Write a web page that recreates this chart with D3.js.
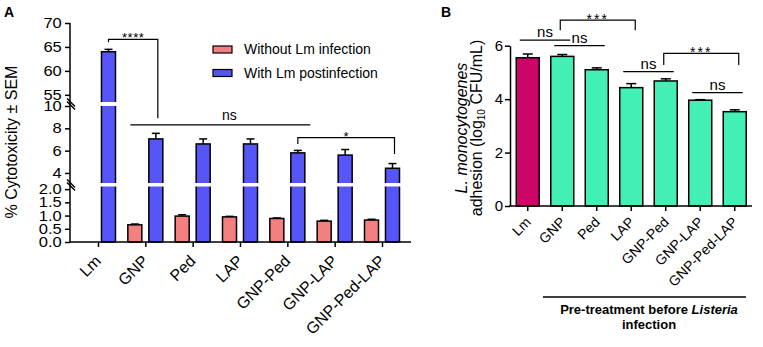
<!DOCTYPE html>
<html>
<head>
<meta charset="utf-8">
<script src="https://cdn.jsdelivr.net/npm/d3@7"></script>
<style>
  body { margin: 0; background: #fff; }
  svg { font-family: Arial, "Liberation Sans", sans-serif; }
</style>
</head>
<body>
<svg id="chart" width="763" height="347"></svg>
<script>
// ---- data, panel A ----
let groupsA = ["Lm", "GNP", "Ped", "LAP", "GNP-Ped", "GNP-LAP", "GNP-Ped-LAP"];
let seriesA = ["Without Lm infection", "With Lm postinfection"];
let withoutLm = [null, 0.65, 0.98, 0.95, 0.89, 0.79, 0.83];
let withoutLmSem = [null, 0.03, 0.05, 0.02, 0.02, 0.03, 0.03];
let withLm = [64.0, 7.05, 6.6, 6.6, 5.8, 5.6, 4.42];
let withLmSem = [0.5, 0.5, 0.45, 0.45, 0.22, 0.5, 0.42];
let ticksLow = [0, 0.5, 1, 1.5, 2];
let ticksMid = [4, 6, 8, 10];
let ticksTop = [55, 60, 65, 70];

// ---- data, panel B ----
let groupsB = ["Lm", "GNP", "Ped", "LAP", "GNP-Ped", "GNP-LAP", "GNP-Ped-LAP"];
let adhesion = [5.55, 5.6, 5.1, 4.43, 4.68, 3.96, 3.53];
let adhesionSem = [0.14, 0.07, 0.07, 0.15, 0.08, 0.02, 0.07];
let ticksB = [0, 2, 4, 6];

// significance marks
let bracketsA = [
  {from: "Lm", to: "GNP", top: 66.6, left: 66.0, right: 8.9, label: "****"},
  {from: "GNP-Ped", to: "GNP-Ped-LAP", top: 7.16, left: 6.6, right: 5.7, label: "*"}
];
let nsLineA = {from: "GNP", to: "GNP-Ped", y: 8.3, label: "ns"};
let nsLinesB = [
  {from: "Lm", to: "GNP", y: 6.21},
  {from: "GNP", to: "Ped", y: 6.0},
  {from: "LAP", to: "GNP-Ped", y: 5.03},
  {from: "GNP-LAP", to: "GNP-Ped-LAP", y: 4.24}
];
let bracketsB = [
  {from: "GNP", to: "LAP", top: 6.96, legs: 6.58},
  {from: "GNP-Ped", to: "GNP-Ped-LAP", top: 5.71, legs: 5.28}
];

let pink = "#F47F80", blue = "#5555F8", crimson = "#CC0668", mint = "#44EFB5";

let svg = d3.select("#chart");

// ================= PANEL A =================
let gA = svg.append("g");

// broken y scale: three segments
let segsA = [
  {lo: 0, hi: 2.1, s: d3.scaleLinear().domain([0, 2.1]).range([242, 186.5]), ticks: ticksLow, fmt: d3.format(".1f")},
  {lo: 3.1, hi: 10, s: d3.scaleLinear().domain([3.1, 10]).range([183, 106]), ticks: ticksMid, fmt: d3.format("d")},
  {lo: 53.5, hi: 70, s: d3.scaleLinear().domain([53.5, 70]).range([102, 23]), ticks: ticksTop, fmt: d3.format("d")}
];
function yA(v) {
  let seg = segsA.find(g => v <= g.hi) || segsA[2];
  return seg.s(Math.max(v, seg.lo));
}

let xA = d3.scalePoint().domain(groupsA).range([98, 382]);
let subA = d3.scaleBand().domain(seriesA).range([-17.5, 17.5]).paddingInner(0.333);
let bwA = subA.bandwidth();

let barsA = [];
groupsA.forEach((g, i) => {
  if (withoutLm[i] != null) barsA.push({g, s: seriesA[0], v: withoutLm[i], e: withoutLmSem[i], c: pink});
  barsA.push({g, s: seriesA[1], v: withLm[i], e: withLmSem[i], c: blue});
});

// error bars (upper only)
barsA.forEach(d => {
  let cx = xA(d.g) + subA(d.s) + bwA / 2;
  gA.append("line").attr("x1", cx).attr("x2", cx)
    .attr("y1", yA(d.v)).attr("y2", yA(d.v + d.e))
    .attr("stroke", "#000").attr("stroke-width", 1.5);
  gA.append("line").attr("x1", cx - 4).attr("x2", cx + 4)
    .attr("y1", yA(d.v + d.e)).attr("y2", yA(d.v + d.e))
    .attr("stroke", "#000").attr("stroke-width", 1.5);
});

gA.selectAll("rect.bar").data(barsA).join("rect")
  .attr("class", "bar")
  .attr("x", d => xA(d.g) + subA(d.s))
  .attr("y", d => yA(d.v))
  .attr("width", bwA)
  .attr("height", d => yA(0) - yA(d.v))
  .attr("fill", d => d.c)
  .attr("stroke", "#000")
  .attr("stroke-width", 1.5);

// white gaps at the breaks
gA.append("rect").attr("x", 72).attr("y", segsA[2].s(53.5)).attr("width", 340)
  .attr("height", segsA[1].s(10) - segsA[2].s(53.5)).attr("fill", "#fff");
gA.append("rect").attr("x", 72).attr("y", segsA[1].s(3.1)).attr("width", 340)
  .attr("height", segsA[0].s(2.1) - segsA[1].s(3.1)).attr("fill", "#fff");

// y axes per segment (labels a bit wide, like the original export)
segsA.forEach(seg => {
  let ax = gA.append("g").attr("transform", "translate(70,0)")
    .call(d3.axisLeft(seg.s).tickValues(seg.ticks).tickFormat(seg.fmt).tickSize(5).tickSizeOuter(0).tickPadding(2));
  ax.select(".domain").remove();
  ax.selectAll("line").attr("stroke-width", 1.5);
  ax.selectAll("text").attr("font-size", 14).attr("transform", "scale(1.18,1)")
    .attr("font-family", "Arial, 'Liberation Sans', sans-serif").attr("fill", "#000");
});
gA.append("line").attr("x1", 70).attr("x2", 70).attr("y1", 23).attr("y2", 242.75)
  .attr("stroke", "#000").attr("stroke-width", 1.5);
// break marks
[104, 185].forEach(y => {
  [-1.5, 1.5].forEach(o => {
    gA.append("line").attr("x1", 67).attr("y1", y - 4 + o).attr("x2", 75).attr("y2", y + 4 + o)
      .attr("stroke", "#000").attr("stroke-width", 1.5);
  });
});

// x axis
gA.append("line").attr("x1", 70).attr("x2", 411).attr("y1", 242).attr("y2", 242)
  .attr("stroke", "#000").attr("stroke-width", 1.5);
let xaxA = gA.append("g").attr("transform", "translate(0,242)")
  .call(d3.axisBottom(xA).tickSize(5).tickFormat(""));
xaxA.select(".domain").remove();
xaxA.selectAll("line").attr("stroke-width", 1.5);
gA.selectAll("text.xlab").data(groupsA).join("text")
  .attr("class", "xlab")
  .attr("transform", d => `translate(${xA(d) + 4},262) rotate(-45)`)
  .attr("text-anchor", "end")
  .attr("font-size", 16)
  .text(d => d);

// y label + panel letter
gA.append("text").attr("transform", "translate(17,142) rotate(-90)")
  .attr("text-anchor", "middle").attr("font-size", 16).text("% Cytotoxicity ± SEM");
gA.append("text").attr("x", 4).attr("y", 17).attr("font-size", 14).attr("font-weight", "bold").text("A");

// legend
seriesA.forEach((s, i) => {
  gA.append("rect").attr("x", 213).attr("y", 46 + i * 23.5).attr("width", 19).attr("height", 7)
    .attr("fill", i === 0 ? pink : blue).attr("stroke", "#000").attr("stroke-width", 1.2);
  gA.append("text").attr("x", 244).attr("y", 54 + i * 23.5).attr("font-size", 14).text(s);
});

// significance, panel A
let blueX = g => xA(g) + subA(seriesA[1]) + bwA / 2;
bracketsA.forEach(b => {
  let x1 = blueX(b.from), x2 = blueX(b.to) + 2;
  gA.append("path")
    .attr("d", `M${x1},${yA(b.left)}V${yA(b.top)}H${x2}V${yA(b.right)}`)
    .attr("fill", "none").attr("stroke", "#000").attr("stroke-width", 1.2);
  gA.append("text").attr("x", (x1 + x2) / 2).attr("y", yA(b.top) + 3)
    .attr("text-anchor", "middle").attr("font-size", 13).attr("letter-spacing", 0.5).text(b.label);
});
{
  let x1 = xA(nsLineA.from) - 15, x2 = xA(nsLineA.to) + 23;
  gA.append("line").attr("x1", x1).attr("x2", x2).attr("y1", yA(nsLineA.y)).attr("y2", yA(nsLineA.y))
    .attr("stroke", "#000").attr("stroke-width", 1.2);
  gA.append("text").attr("x", (x1 + x2) / 2 + 9).attr("y", yA(nsLineA.y) - 5)
    .attr("text-anchor", "middle").attr("font-size", 14).text(nsLineA.label);
}

// ================= PANEL B =================
let gB = svg.append("g");
let xB = d3.scaleBand().domain(groupsB).range([510.5, 752]).paddingInner(0.333).paddingOuter(0.167);
let yB = d3.scaleLinear().domain([0, 6]).range([206, 45.7]);

adhesion.forEach((v, i) => {
  let cx = xB(groupsB[i]) + xB.bandwidth() / 2;
  gB.append("line").attr("x1", cx).attr("x2", cx).attr("y1", yB(v)).attr("y2", yB(v + adhesionSem[i]))
    .attr("stroke", "#000").attr("stroke-width", 1.5);
  gB.append("line").attr("x1", cx - 5).attr("x2", cx + 5)
    .attr("y1", yB(v + adhesionSem[i])).attr("y2", yB(v + adhesionSem[i]))
    .attr("stroke", "#000").attr("stroke-width", 1.5);
});

gB.selectAll("rect.bar").data(adhesion).join("rect")
  .attr("class", "bar")
  .attr("x", (d, i) => xB(groupsB[i]))
  .attr("y", d => yB(d))
  .attr("width", xB.bandwidth())
  .attr("height", d => yB(0) - yB(d))
  .attr("fill", (d, i) => i === 0 ? crimson : mint)
  .attr("stroke", "#000")
  .attr("stroke-width", 1.5);

let yaxB = gB.append("g").attr("transform", "translate(510,0)")
  .call(d3.axisLeft(yB).tickValues(ticksB).tickFormat(d3.format("d")).tickSize(5).tickSizeOuter(0).tickPadding(2));
yaxB.select(".domain").attr("stroke-width", 1.5);
yaxB.selectAll("line").attr("stroke-width", 1.5);
yaxB.selectAll("text").attr("font-size", 15).attr("font-family", "Arial, 'Liberation Sans', sans-serif").attr("fill", "#000");

gB.append("line").attr("x1", 509.25).attr("x2", 752).attr("y1", 206).attr("y2", 206)
  .attr("stroke", "#000").attr("stroke-width", 1.5);
let xaxB = gB.append("g").attr("transform", "translate(0,206)")
  .call(d3.axisBottom(xB).tickSize(5).tickFormat(""));
xaxB.select(".domain").remove();
xaxB.selectAll("line").attr("stroke-width", 1.5);
gB.selectAll("text.xlab").data(groupsB).join("text")
  .attr("class", "xlab")
  .attr("transform", d => `translate(${xB(d) + xB.bandwidth() / 2 + 4},223) rotate(-45)`)
  .attr("text-anchor", "end")
  .attr("font-size", 14)
  .text(d => d);

// y label
gB.append("text").attr("transform", "translate(467,128) rotate(-90)")
  .attr("text-anchor", "middle").attr("font-size", 16).attr("font-style", "italic").text("L. monocytogenes");
let yl2 = gB.append("text").attr("transform", "translate(482,128) rotate(-90)")
  .attr("text-anchor", "middle").attr("font-size", 16);
yl2.append("tspan").text("adhesion (log");
yl2.append("tspan").attr("font-size", 10).attr("dy", 3).text("10");
yl2.append("tspan").attr("dy", -3).text(" CFU/mL)");

gB.append("text").attr("x", 441).attr("y", 17).attr("font-size", 14).attr("font-weight", "bold").text("B");

// significance, panel B
let cB = g => xB(g) + xB.bandwidth() / 2;
nsLinesB.forEach(n => {
  let x1 = cB(n.from) - 8, x2 = cB(n.to) + 8;
  gB.append("line").attr("x1", x1).attr("x2", x2).attr("y1", yB(n.y)).attr("y2", yB(n.y))
    .attr("stroke", "#000").attr("stroke-width", 1.2);
  gB.append("text").attr("x", (x1 + x2) / 2).attr("y", yB(n.y) - 3)
    .attr("text-anchor", "middle").attr("font-size", 15).text("ns");
});
bracketsB.forEach(b => {
  let x1 = cB(b.from) - 2, x2 = cB(b.to) + 4;
  gB.append("path")
    .attr("d", `M${x1},${yB(b.legs)}V${yB(b.top)}H${x2}V${yB(b.legs)}`)
    .attr("fill", "none").attr("stroke", "#000").attr("stroke-width", 1.2);
  gB.append("text").attr("x", (x1 + x2) / 2).attr("y", yB(b.top) + 4)
    .attr("text-anchor", "middle").attr("font-size", 14).attr("letter-spacing", 2).text("***");
});

// treatment caption
gB.append("line").attr("x1", 543).attr("x2", 746).attr("y1", 297).attr("y2", 297)
  .attr("stroke", "#000").attr("stroke-width", 1.5);
let cap = gB.append("text").attr("x", 649).attr("y", 314).attr("text-anchor", "middle")
  .attr("font-size", 13).attr("font-weight", "bold");
cap.append("tspan").text("Pre-treatment before ");
cap.append("tspan").attr("font-style", "italic").text("Listeria");
gB.append("text").attr("x", 649).attr("y", 329).attr("text-anchor", "middle")
  .attr("font-size", 13).attr("font-weight", "bold").text("infection");
</script>
</body>
</html>
